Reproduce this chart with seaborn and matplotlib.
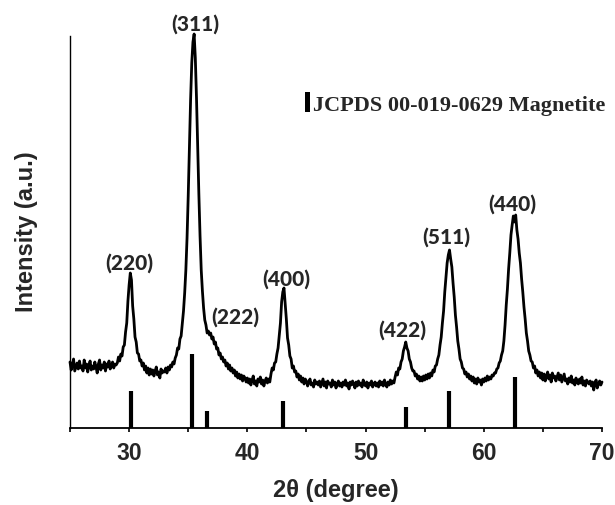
import numpy as np
import pandas as pd
import matplotlib
matplotlib.use("Agg")
import matplotlib.pyplot as plt
from matplotlib.patches import Rectangle
from matplotlib.ticker import FixedLocator
import seaborn as sns

# ---------------- data ----------------
scan_start = 25.0   # degrees 2theta
scan_step = 0.1     # degrees per sample

intensity = [
    66, 58, 63, 69, 57, 61, 65, 59, 67, 60,        # 25
    62, 57, 68, 60, 64, 56, 63, 67, 58, 62,        # 26
    59, 66, 61, 55, 64, 68, 58, 63, 60, 66,        # 27
    57, 64, 61, 67, 59, 62, 66, 60, 64, 63,        # 28
    65, 71, 67, 74, 72, 81, 83, 96, 105, 127,      # 29
    143, 155, 148, 122, 109, 91, 86, 75, 74, 67,   # 30
    68, 62, 65, 58, 62, 55, 60, 53, 59, 54,        # 31
    58, 52, 57, 61, 53, 56, 50, 59, 55, 57,        # 32
    56, 60, 55, 61, 58, 63, 61, 66, 64, 70,        # 33
    73, 80, 79, 89, 92, 104, 117, 135, 158, 190,   # 34
    232, 280, 328, 365, 386, 394, 370, 330, 282, 234,  # 35
    192, 158, 137, 120, 108, 103, 95, 97, 93, 95,  # 36
    89, 91, 84, 86, 79, 80, 73, 75, 69, 71,        # 37
    66, 68, 62, 65, 59, 63, 57, 60, 55, 58,        # 38
    52, 56, 50, 54, 49, 53, 47, 52, 50, 46,        # 39
    50, 45, 49, 43, 48, 52, 44, 47, 42, 49,        # 40
    46, 51, 44, 48, 42, 47, 50, 45, 49, 46,        # 41
    54, 60, 58, 65, 66, 74, 80, 93, 105, 126,      # 42
    136, 140, 125, 109, 90, 83, 72, 69, 60, 62,    # 43
    56, 57, 51, 54, 48, 52, 46, 50, 44, 49,        # 44
    47, 42, 46, 49, 43, 45, 41, 48, 44, 46,        # 45
    43, 47, 41, 45, 49, 42, 46, 40, 47, 44,        # 46
    45, 41, 48, 43, 46, 40, 44, 47, 42, 45,        # 47
    41, 46, 43, 48, 42, 45, 39, 46, 43, 47,        # 48
    44, 40, 46, 42, 47, 43, 45, 41, 48, 44,        # 49
    42, 46, 40, 45, 43, 47, 41, 44, 46, 42,        # 50
    45, 41, 47, 43, 46, 42, 48, 44, 41, 46,        # 51
    43, 48, 44, 47, 45, 51, 56, 53, 60, 59,        # 52
    66, 69, 77, 81, 86, 80, 77, 69, 66, 60,        # 53
    57, 57, 52, 54, 49, 52, 47, 51, 47, 52,        # 54
    48, 53, 49, 54, 50, 55, 52, 58, 56, 62,        # 55
    63, 69, 73, 83, 91, 105, 117, 136, 151, 165,   # 56
    173, 178, 169, 161, 145, 131, 113, 101, 87, 79,  # 57
    69, 66, 60, 59, 54, 56, 51, 54, 49, 52,        # 58
    47, 51, 45, 49, 44, 50, 46, 48, 43, 49,        # 59
    46, 50, 47, 52, 48, 51, 49, 53, 52, 55,        # 60
    55, 59, 60, 65, 67, 73, 77, 87, 103, 123,      # 61
    139, 159, 175, 193, 203, 212, 206, 213, 198, 189,  # 62
    175, 165, 149, 136, 121, 109, 95, 87, 77, 73,  # 63
    67, 66, 60, 62, 55, 58, 52, 56, 50, 55,        # 64
    48, 54, 47, 52, 56, 49, 53, 46, 55, 50,        # 65
    52, 47, 51, 55, 48, 53, 46, 50, 54, 47,        # 66
    49, 44, 50, 46, 52, 45, 48, 43, 50, 46,        # 67
    44, 49, 45, 51, 43, 47, 42, 48, 46, 44,        # 68
    47, 42, 46, 38, 45, 48, 40, 44, 47, 43,        # 69
    46,                                            # 70
]

# JCPDS 00-019-0629 reference lines
ref_positions = [30.15, 35.35, 36.6, 43.05, 53.4, 57.05, 62.6]
ref_heights = [37, 74, 17, 27, 21, 37, 51]

peak_labels = ["(220)", "(311)", "(222)", "(400)", "(422)", "(511)", "(440)"]
legend_text = "JCPDS 00-019-0629 Magnetite"
x_ticks = [30, 40, 50, 60, 70]
x_minor_ticks = [25, 35, 45, 55, 65]
x_label = "2θ (degree)"
y_label = "Intensity (a.u.)"

# layout: label anchor positions (data coords)
label_x = [29.98, 35.62, 38.99, 43.28, 53.07, 56.87, 62.41]
label_y = [165, 404, 111, 149, 98, 191, 224]

# ---------------- plotting ----------------
two_theta = np.round(scan_start + scan_step * np.arange(len(intensity)), 2)
df = pd.DataFrame({"two_theta": two_theta, "intensity": intensity})

sns.set_style("white")
plt.rcParams["font.family"] = ["Liberation Sans", "DejaVu Sans"]

W, H = 615, 505
fig = plt.figure(figsize=(W / 100, H / 100), dpi=100)
ax_l, ax_r, ax_t, ax_b = 70, 602, 36, 428
ax = fig.add_axes([ax_l / W, 1 - ax_b / H, (ax_r - ax_l) / W, (ax_b - ax_t) / H])

sns.lineplot(data=df, x="two_theta", y="intensity", ax=ax, color="black",
             linewidth=2.0, clip_on=False)
ax.vlines(ref_positions, 0, ref_heights, colors="black", linewidth=3.0)

ax.set_xlim(25, 70)
ax.set_ylim(0, 392)

for s in ["top", "right"]:
    ax.spines[s].set_visible(False)
ax.spines["left"].set_linewidth(1.0)
ax.spines["bottom"].set_linewidth(1.3)
for s in ["left", "bottom"]:
    ax.spines[s].set_color("black")

ax.set_yticks([])
ax.xaxis.set_major_locator(FixedLocator(x_ticks))
ax.xaxis.set_minor_locator(FixedLocator(x_minor_ticks))
ax.tick_params(axis="x", which="both", direction="out", length=3, width=1.2,
               color="black", bottom=True)
ax.tick_params(axis="x", which="major", labelsize=16.5, pad=7)
for lab in ax.get_xticklabels():
    lab.set_fontweight("bold")

ax.set_xlabel(x_label, fontsize=17, fontweight="bold", labelpad=10)
ax.set_ylabel(y_label, fontsize=17, fontweight="bold", labelpad=23)

for t, xx, yy in zip(peak_labels, label_x, label_y):
    ax.text(xx, yy, t, ha="center", va="center", fontsize=15,
            fontweight="black", family=["Lato", "DejaVu Sans"])

# legend marker + text
fig.add_artist(Rectangle((305 / W, 1 - 112.3 / H), 5 / W, 20 / H,
                         transform=fig.transFigure, color="black", lw=0))
fig.text(313 / W, 1 - 110.5 / H, legend_text, ha="left", va="baseline",
         fontsize=16, fontweight="bold", family=["Liberation Serif", "DejaVu Serif"])

fig.savefig("out.png", dpi=100)
